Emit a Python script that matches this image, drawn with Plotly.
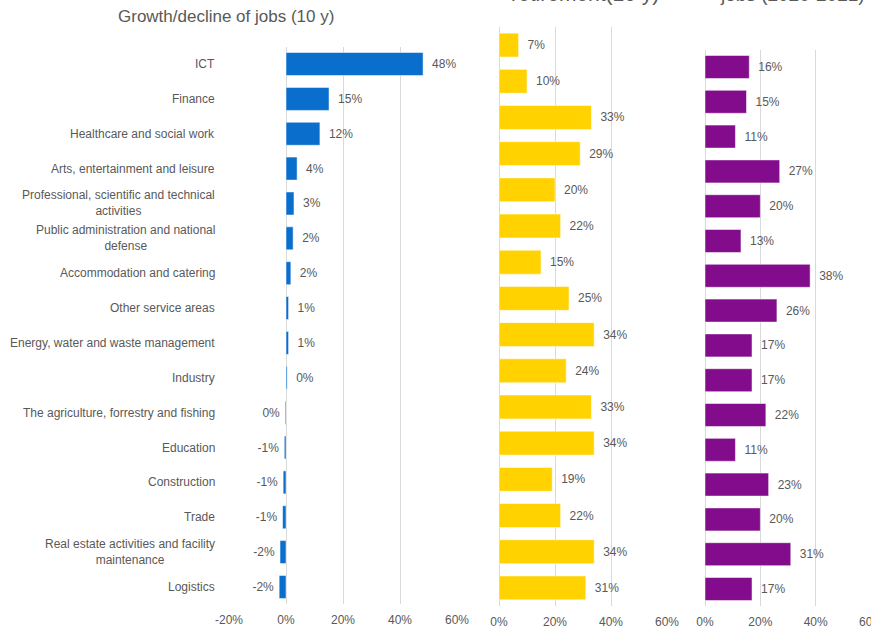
import plotly.graph_objects as go

categories = [
    "ICT",
    "Finance",
    "Healthcare and social work",
    "Arts, entertainment and leisure",
    "Professional, scientific and technical<br>activities",
    "Public administration and national<br>defense",
    "Accommodation and catering",
    "Other service areas",
    "Energy, water and waste management",
    "Industry",
    "The agriculture, forrestry and fishing",
    "Education",
    "Construction",
    "Trade",
    "Real estate activities and facility<br>maintenance",
    "Logistics",
]
growth = [0.481, 0.151, 0.119, 0.039, 0.028, 0.025, 0.017, 0.009, 0.009, 0.004,
          -0.003, -0.006, -0.010, -0.012, -0.021, -0.024]
retirement = [0.07, 0.10, 0.33, 0.29, 0.20, 0.22, 0.15, 0.25, 0.34, 0.24,
              0.33, 0.34, 0.19, 0.22, 0.34, 0.31]
vacant = [0.16, 0.15, 0.11, 0.27, 0.20, 0.13, 0.38, 0.26, 0.17, 0.17,
          0.22, 0.11, 0.23, 0.20, 0.31, 0.17]

titles = ["Growth/decline of jobs (10 y)",
          "Employees reaching<br>retirement(10 y)",
          "Share of vacant<br>jobs (2020-2021)"]
tick_vals_1 = [-0.2, 0, 0.2, 0.4, 0.6]
tick_text_1 = ["-20%", "0%", "20%", "40%", "60%"]
tick_vals_23 = [0, 0.2, 0.4, 0.6]
tick_text_23 = ["0%", "20%", "40%", "60%"]

W, H = 871, 629
GREY = "#595959"
GRID = "#D9D9D9"
FONT = "Liberation Sans"


def pct_label(v):
    n = int(round(v * 100))
    s = f"{n}%"
    return ("\u2002" + s) if v >= 0 else (s + "\u2009")


def px_x(a, b):
    return [a / W, b / W]


def px_y(top, bottom):
    return [1 - bottom / H, 1 - top / H]


fig = go.Figure()

series = [
    (growth, "#0A6ECC", "x", "y"),
    (retirement, "#FFD200", "x2", "y2"),
    (vacant, "#820C8C", "x3", "y3"),
]
for vals, col, xa, ya in series:
    fig.add_trace(go.Bar(
        x=vals, y=categories, orientation="h",
        marker=dict(color=col, line=dict(color="rgba(255,255,255,0.5)", width=1)),
        text=[pct_label(v) for v in vals],
        textposition="outside", cliponaxis=False, constraintext="none",
        textfont=dict(size=12, color=GREY, family=FONT),
        xaxis=xa, yaxis=ya, showlegend=False, hoverinfo="skip",
    ))

common_x = dict(showgrid=True, gridcolor=GRID, gridwidth=1, zeroline=True,
                zerolinecolor=GRID, zerolinewidth=1, automargin=False,
                tickfont=dict(size=12, color=GREY, family=FONT),
                ticklabelstandoff=7, ticklabeloverflow="allow",
                showline=False, ticks="", fixedrange=True)
common_y = dict(showticklabels=False, showgrid=False, zeroline=False,
                categoryorder="array", categoryarray=categories, automargin=False,
                autorange="reversed", ticks="", showline=False, fixedrange=True)

fig.update_layout(
    width=W, height=H, autosize=False,
    margin=dict(l=0, r=0, t=0, b=0, pad=0),
    paper_bgcolor="white", plot_bgcolor="white",
    bargap=0.34,
    font=dict(family=FONT, color=GREY),
    xaxis=dict(domain=px_x(229, 457), range=[-0.2, 0.6], tickvals=tick_vals_1,
               ticktext=tick_text_1, anchor="y", **common_x),
    yaxis=dict(domain=px_y(46.6, 604.4), anchor="x", **common_y),
    xaxis2=dict(domain=px_x(499, 667), range=[0, 0.6], tickvals=tick_vals_23,
                ticktext=tick_text_23, anchor="y2", **common_x),
    yaxis2=dict(domain=px_y(27, 606), anchor="x2", **common_y),
    xaxis3=dict(domain=px_x(705, 871), range=[0, 0.6], tickvals=tick_vals_23,
                ticktext=tick_text_23, anchor="y3", **common_x),
    yaxis3=dict(domain=px_y(49.6, 606.4), anchor="x3", **common_y),
)

# category labels (centered multi-line, right-anchored like the original)
for cat in categories:
    fig.add_annotation(
        x=217 / W, xref="paper", xanchor="right",
        y=cat, yref="y", yanchor="middle",
        text=cat, showarrow=False, align="center",
        font=dict(size=12, color=GREY, family=FONT),
    )

# panel titles (the second and third are cut by the top edge, as in the original)
fig.add_annotation(x=226 / W, y=1 - 17 / H, xref="paper", yref="paper",
                   text=titles[0], showarrow=False, xanchor="center", yanchor="middle",
                   font=dict(size=17, color=GREY, family=FONT))
fig.add_annotation(x=585 / W, y=1 - 7 / H, xref="paper", yref="paper",
                   text=titles[1], showarrow=False, xanchor="center", yanchor="bottom",
                   font=dict(size=21, color=GREY, family=FONT))
fig.add_annotation(x=792 / W, y=1 - 7 / H, xref="paper", yref="paper",
                   text=titles[2], showarrow=False, xanchor="center", yanchor="bottom",
                   font=dict(size=19, color=GREY, family=FONT))

fig.write_html(
    "out.html",
    config={"displayModeBar": False, "staticPlot": True},
    post_script="document.body.style.margin='0';document.body.style.padding='0';",
)
